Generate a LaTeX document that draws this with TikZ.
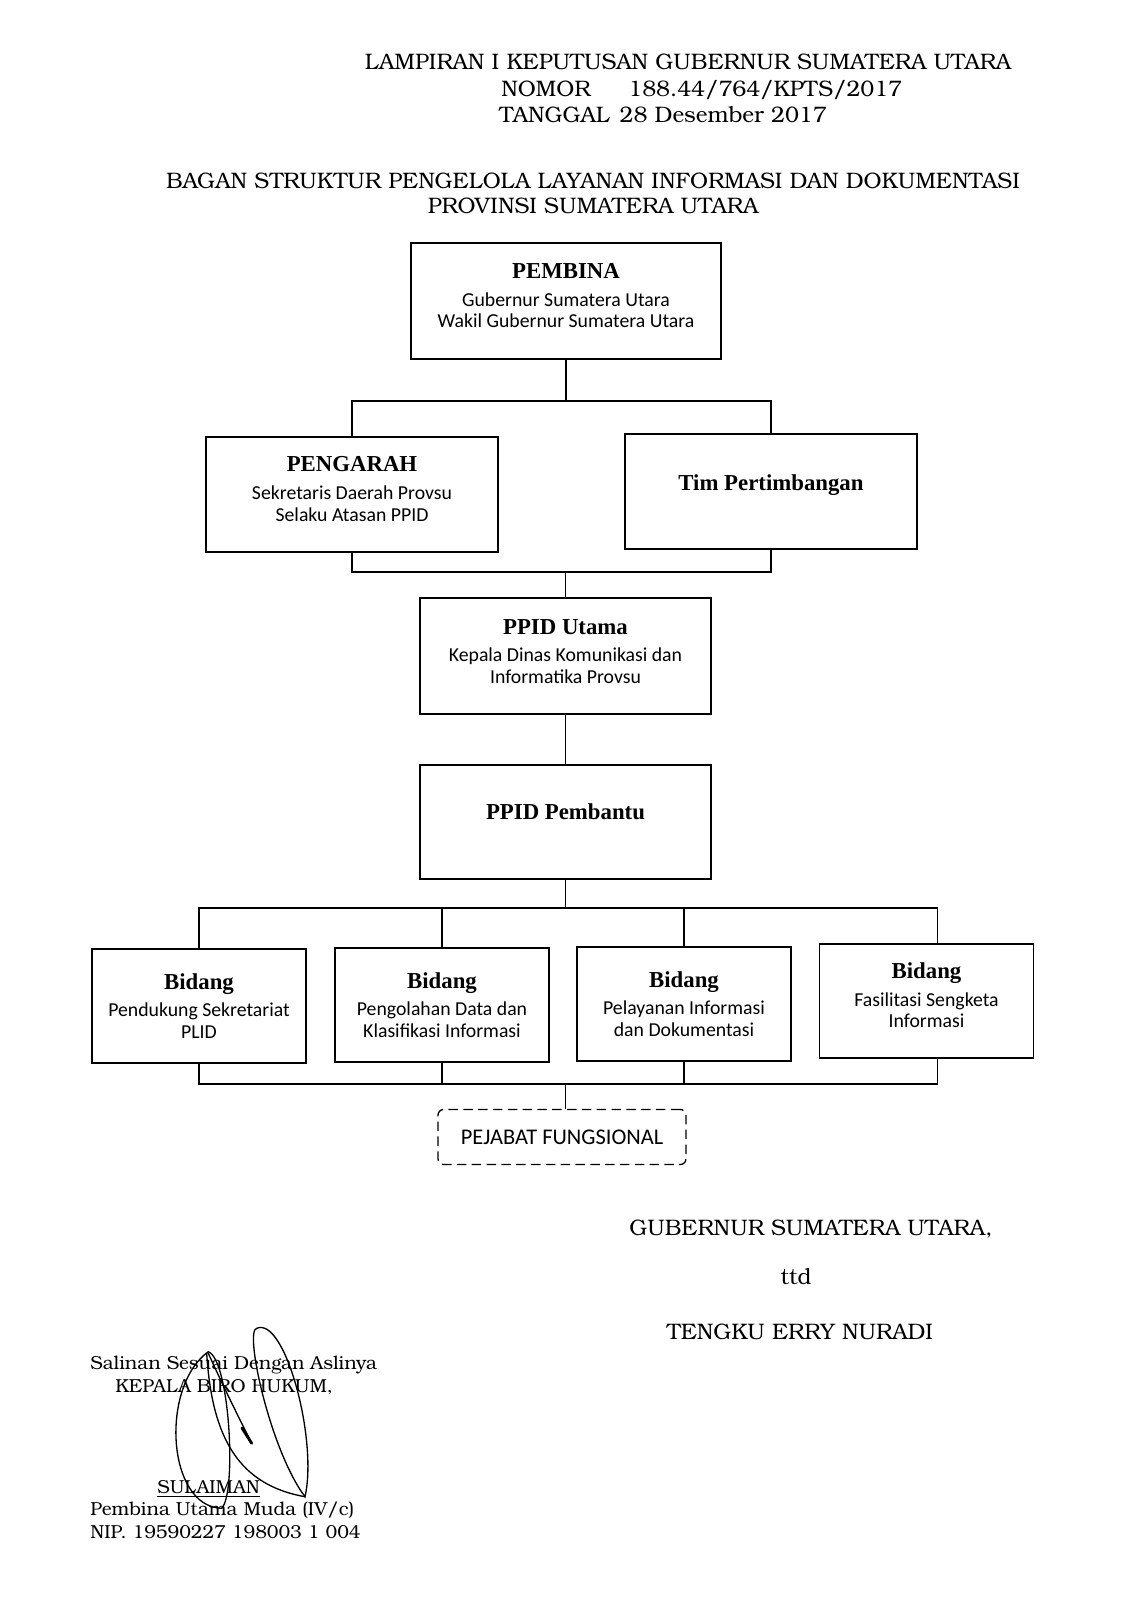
\documentclass[tikz,border=0pt]{standalone}
\usepackage{fontspec}
\setmainfont{Liberation Serif}
\newfontfamily\bkf{texgyrebonum-regular.otf}
\newfontfamily\bodyf{Carlito}
\newfontfamily\headf{Liberation Serif}
\newcommand\hdf{\headf\bfseries\fontsize{12}{14}\selectfont}
\begin{document}
\begin{tikzpicture}[x=0.5263pt,y=-0.5263pt,
  box/.style={draw, line width=0.8pt, align=center, inner sep=2pt,
    font=\bodyf\fontsize{10.4}{11.5}\selectfont},
  conn/.style={line width=0.6pt},
  doc/.style={font=\bkf\fontsize{11.8}{14}\selectfont, inner sep=0pt},
  docs/.style={font=\bkf\fontsize{9.9}{12}\selectfont, inner sep=0pt},
  sig/.style={line width=0.7pt, line cap=round}]
\useasboundingbox[fill=white] (0,0) rectangle (1131,1600);

% header
\node[doc, anchor=base] (h1) at (688,70) {LAMPIRAN I KEPUTUSAN GUBERNUR SUMATERA UTARA};
\node[doc, anchor=base west] (h2a) at (501,97) {NOMOR};
\node[doc, anchor=base west] (h2b) at (628,97) {188.44/764/KPTS/2017};
\node[doc, anchor=base west] (h3a) at (499,123) {TANGGAL};
\node[doc, anchor=base west] (h3b) at ([xshift=5pt]h3a.base east) {28 Desember 2017};
\node[doc, anchor=base] (t1) at (593,189) {BAGAN STRUKTUR PENGELOLA LAYANAN INFORMASI DAN DOKUMENTASI};
\node[doc, anchor=base] (t2) at (593,214) {PROVINSI SUMATERA UTARA};

% boxes
\node[box, minimum width=163.2pt, minimum height=61pt, text depth=5.5pt] (pembina) at (566,301)
  {{\hdf PEMBINA}\\[3pt]Gubernur Sumatera Utara\\Wakil Gubernur Sumatera Utara};
\node[box, minimum width=153.7pt, minimum height=60.5pt, text depth=6pt] (pengarah) at (352,494.5)
  {{\hdf PENGARAH}\\[3pt]Sekretaris Daerah Provsu\\Selaku Atasan PPID};
\node[box, minimum width=153.7pt, minimum height=60.5pt, text depth=9pt] (tim) at (771,491.5)
  {{\hdf Tim Pertimbangan}};
\node[box, minimum width=153.2pt, minimum height=61pt, text depth=5pt] (utama) at (565.5,656)
  {{\hdf PPID Utama}\\[3pt]Kepala Dinas Komunikasi dan\\Informatika Provsu};
\node[box, minimum width=153.2pt, minimum height=60pt, text depth=11pt] (pembantu) at (565.5,822)
  {{\hdf PPID Pembantu}};
\node[box, minimum width=112.6pt, minimum height=60pt] (b1) at (199,1006)
  {{\hdf Bidang}\\[3pt]Pendukung Sekretariat\\PLID};
\node[box, minimum width=112.6pt, minimum height=60pt] (b2) at (442,1005)
  {{\hdf Bidang}\\[3pt]Pengolahan Data dan\\Klasifikasi Informasi};
\node[box, minimum width=112.6pt, minimum height=60pt] (b3) at (684,1004)
  {{\hdf Bidang}\\[3pt]Pelayanan Informasi\\dan Dokumentasi};
\node[box, minimum width=112.6pt, minimum height=60pt, text depth=6pt] (b4) at (926.5,1001)
  {{\hdf Bidang}\\[3pt]Fasilitasi Sengketa\\Informasi};
\node[box, dashed, dash pattern=on 5pt off 2.8pt, rounded corners=3pt, line width=0.7pt,
  minimum width=130.5pt, minimum height=29pt, font=\bodyf\fontsize{11.8}{13}\selectfont] (pf) at (562,1137)
  {PEJABAT FUNGSIONAL};

% connectors
\coordinate (j1) at (566,401);
\coordinate (j2) at (565.5,572);
\coordinate (j3) at (565.5,908);
\coordinate (j4) at (565.5,1084);
\draw[conn] (pembina.south) -- (j1);
\draw[conn] (pengarah.north) |- (j1) -| (tim.north);
\draw[conn] (pengarah.south) |- (j2) -| (tim.south);
\draw[conn] (j2) -- (utama.north);
\draw[conn] (utama.south) -- (pembantu.north);
\draw[conn] (pembantu.south) -- (j3);
\draw[conn] (b1.north) |- (j3) -| ([xshift=5.8pt]b4.north);
\draw[conn] (b2.north) -- (b2.north |- j3);
\draw[conn] (b3.north) -- (b3.north |- j3);
\draw[conn] (b1.south) |- (j4) -| ([xshift=5.8pt]b4.south);
\draw[conn] (b2.south) -- (b2.south |- j4);
\draw[conn] (b3.south) -- (b3.south |- j4);
\draw[conn] (j4) -- (j4 |- pf.north);

% signature block right
\node[doc, anchor=base] (gub) at (811,1235) {GUBERNUR SUMATERA UTARA,};
\node[doc, anchor=base] (ttd) at (796,1284) {ttd};
\node[doc, anchor=base] (ten) at (800,1339) {TENGKU ERRY NURADI};

% signature block left
\node[docs, anchor=base west] (sal) at (90,1369) {Salinan Sesuai Dengan Aslinya};
\node[docs, anchor=base west] (kep) at (115,1392) {KEPALA BIRO HUKUM,};
\node[docs, anchor=base west] (sul) at (157,1493) {\underline{SULAIMAN}};
\node[docs, anchor=base west] (pem) at (90,1515) {Pembina Utama Muda (IV/c)};
\node[docs, anchor=base west] (nip) at (90,1538) {NIP. 19590227 198003 1 004};

% hand signature
\draw[sig] (208.3,1351.7) .. controls (160,1386.7) and (166.7,1506.7) .. (221.7,1508.3)
  .. controls (236.7,1493.3) and (230,1360) .. (208.3,1351.7);
\draw[sig] (208.3,1353.3) .. controls (225,1390) and (240,1420) .. (251.7,1443.3);
\draw[line width=1.5pt, line cap=round] (242,1428) -- (251.7,1443.3);
\draw[sig] (256.7,1328.3) .. controls (244,1330) and (270,1450) .. (305,1496.7)
  .. controls (318,1440) and (285,1316) .. (256.7,1328.3);
\draw[sig] (206.7,1353.3) .. controls (212,1440) and (240,1485) .. (305,1496.7);
\end{tikzpicture}
\end{document}
